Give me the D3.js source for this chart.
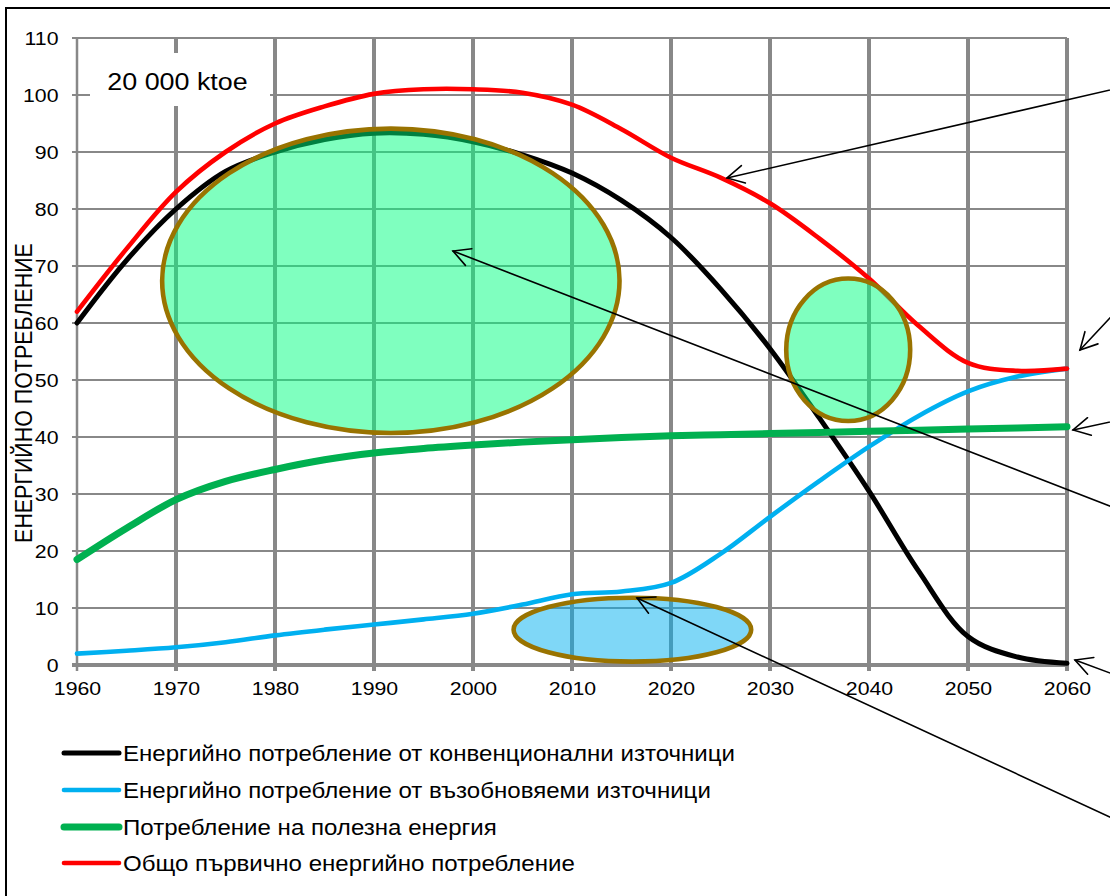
<!DOCTYPE html>
<html>
<head>
<meta charset="utf-8">
<script src="https://cdn.jsdelivr.net/npm/d3@7"></script>
<style>
  html, body { margin: 0; padding: 0; background: #fff; }
  svg { display: block; font-family: "Liberation Sans", Arial, sans-serif; }
</style>
</head>
<body>
<svg id="chart" width="1110" height="896"></svg>
<script>
// ---- data ----
const years = [1960, 1965, 1970, 1975, 1980, 1985, 1990, 1995, 2000, 2005, 2010,
               2015, 2020, 2025, 2030, 2035, 2040, 2045, 2050, 2055, 2060];
const conventional = [60, 71, 80, 86.6, 90, 92.2, 93.3, 93.1, 91.8, 89.5, 86.3,
                      81.5, 75, 66, 55.5, 43.3, 30.5, 16.5, 5, 1.4, 0.3];
const renewable = [2, 2.5, 3.1, 4, 5.2, 6.2, 7.1, 8, 9, 10.6, 12.4,
                   12.9, 14.4, 19.5, 26, 32.3, 38.3, 43.7, 48, 50.6, 52];
const useful = [18.5, 24, 29, 32.2, 34.3, 36, 37.2, 38, 38.6, 39.1, 39.5,
                39.9, 40.2, 40.4, 40.6, 40.8, 41, 41.2, 41.4, 41.6, 41.8];
const total = [62, 73, 83, 90, 95, 98, 100.2, 101, 101, 100.4, 98.3,
               94, 89, 85.5, 81, 74.8, 67.8, 59.5, 53, 51.6, 52];

const seriesNames = [
  "Енергийно потребление от конвенционални източници",
  "Енергийно потребление от възобновяеми източници",
  "Потребление на полезна енергия",
  "Общо първично енергийно потребление"
];
const xTicks = [1960, 1970, 1980, 1990, 2000, 2010, 2020, 2030, 2040, 2050, 2060];
const yTicks = [0, 10, 20, 30, 40, 50, 60, 70, 80, 90, 100, 110];
const yTitle = "ЕНЕРГИЙНО ПОТРЕБЛЕНИЕ";
const unitNote = "20 000 ktoe";

// highlighted regions (centre and radii in year / value units)
const highlights = [
  { cx: 1991.7, cy: 67.4, rx: 23.1, ry: 26.7, fill: "#00ff80" },
  { cx: 2037.9, cy: 55.3, rx: 6.26, ry: 12.5, fill: "#00ff80" },
  { cx: 2016.1, cy: 6.2,  rx: 12.0, ry: 5.6,  fill: "#00b0f0" }
];
// callout arrows: from a point right of the plot to a point of interest
const callouts = [
  { from: [2064.34, 100.88], to: [2025.66, 85.44] },
  { from: [2064.34, 60.88],  to: [2061.31, 55.26] },
  { from: [2064.34, 42.63],  to: [2060.61, 41.23] },
  { from: [2064.34, 27.89],  to: [1997.98, 72.63] },
  { from: [2064.34, -1.40],  to: [2060.81, 0.88] },
  { from: [2064.34, -26.67], to: [2016.57, 11.75] }
];

// ---- layout ----
const W = 1110, H = 896;
const plot = { left: 77, right: 1067, top: 38, bottom: 665 };
const STRETCH = 1.12;          // text is set slightly wide
const GRID = "#888888";

const svg = d3.select("#chart");
const x = d3.scaleLinear().domain([1960, 2060]).range([plot.left, plot.right]);
const y = d3.scaleLinear().domain([0, 110]).range([plot.bottom, plot.top]);

const series = [
  { name: seriesNames[0], values: conventional, color: "#000000", width: 5 },
  { name: seriesNames[1], values: renewable,    color: "#00b0f0", width: 4.6 },
  { name: seriesNames[2], values: useful,       color: "#00b050", width: 7 },
  { name: seriesNames[3], values: total,        color: "#ff0000", width: 4.6 }
];

// outer frame
svg.append("rect")
  .attr("x", 6).attr("y", 8).attr("width", W + 50).attr("height", H + 50)
  .attr("fill", "#fff").attr("stroke", "#000").attr("stroke-width", 2);

// horizontal grid
svg.append("g").selectAll("line")
  .data(yTicks.filter(d => d > 0))
  .join("line")
  .attr("x1", plot.left - 5).attr("x2", plot.right)
  .attr("y1", d => y(d)).attr("y2", d => y(d))
  .attr("stroke", GRID).attr("stroke-width", 2);

// vertical grid (first one is the value axis)
svg.append("g").selectAll("line")
  .data(xTicks)
  .join("line")
  .attr("x1", d => x(d)).attr("x2", d => x(d))
  .attr("y1", plot.top).attr("y2", plot.bottom + 6)
  .attr("stroke", GRID)
  .attr("stroke-width", d => d === xTicks[0] ? 2.5 : 4);

// category axis line
svg.append("line")
  .attr("x1", plot.left - 5).attr("x2", plot.right + 2)
  .attr("y1", y(0)).attr("y2", y(0))
  .attr("stroke", GRID).attr("stroke-width", 4);

// axis labels
const xAxis = svg.append("g")
  .attr("transform", `translate(0,${plot.bottom})`)
  .call(d3.axisBottom(x).tickValues(xTicks).tickFormat(d3.format("d")).tickSize(0).tickPadding(17));
const yAxis = svg.append("g")
  .attr("transform", `translate(${plot.left},0)`)
  .call(d3.axisLeft(y).tickValues(yTicks).tickSize(0).tickPadding(16.5));
[xAxis, yAxis].forEach(g => {
  g.select(".domain").remove();
  g.selectAll("text")
    .attr("fill", "#000")
    .style("font-size", "19px")
    .style("font-family", '"Liberation Sans", Arial, sans-serif')
    .attr("transform", `scale(${STRETCH},1)`);
});

// unit note box
svg.append("rect")
  .attr("x", 90).attr("y", 53).attr("width", 180).attr("height", 53)
  .attr("fill", "#fff");
svg.append("text")
  .attr("transform", `translate(177.5,90) scale(${STRETCH},1)`)
  .attr("text-anchor", "middle")
  .style("font-size", "24px")
  .text(unitNote);

// value axis title
svg.append("text")
  .attr("transform", `translate(32,393) scale(${STRETCH},1) rotate(-90)`)
  .attr("text-anchor", "middle")
  .style("font-size", "21.4px")
  .text(yTitle);

// series lines
const line = d3.line()
  .x((d, i) => x(years[i]))
  .y(d => y(d))
  .curve(d3.curveCatmullRom.alpha(0.5));
svg.append("g").selectAll("path")
  .data(series)
  .join("path")
  .attr("d", s => line(s.values))
  .attr("fill", "none")
  .attr("stroke", s => s.color)
  .attr("stroke-width", s => s.width)
  .attr("stroke-linecap", "round")
  .attr("stroke-linejoin", "round");

// highlighted regions
svg.append("g").selectAll("ellipse")
  .data(highlights)
  .join("ellipse")
  .attr("cx", d => x(d.cx)).attr("cy", d => y(d.cy))
  .attr("rx", d => x(d.cx + d.rx) - x(d.cx))
  .attr("ry", d => y(d.cy - d.ry) - y(d.cy))
  .attr("fill", d => d.fill).attr("fill-opacity", 0.5)
  .attr("stroke", "#997300").attr("stroke-width", 4.6);

// callout arrows
const arrows = svg.append("g").attr("stroke", "#000").attr("stroke-width", 1.6)
  .attr("fill", "none").attr("stroke-linecap", "round");
callouts.forEach(c => {
  const x0 = x(c.from[0]), y0 = y(c.from[1]);
  const x1 = x(c.to[0]), y1 = y(c.to[1]);
  const dx = x0 - x1, dy = y0 - y1, len = Math.hypot(dx, dy);
  const ux = dx / len, uy = dy / len;
  // start a little outside the visible frame
  arrows.append("line")
    .attr("x1", x0 + ux * 12).attr("y1", y0 + uy * 12)
    .attr("x2", x1).attr("y2", y1);
  const a = 28 * Math.PI / 180, L = 19;
  const arm = s => [x1 + L * (ux * Math.cos(s * a) - uy * Math.sin(s * a)),
                    y1 + L * (ux * Math.sin(s * a) + uy * Math.cos(s * a))];
  const p1 = arm(1), p2 = arm(-1);
  arrows.append("path")
    .attr("d", `M${p1[0]},${p1[1]}L${x1},${y1}L${p2[0]},${p2[1]}`)
    .attr("stroke-linejoin", "miter");
});

// legend
const legend = svg.append("g");
const rowY = [753, 790, 827, 863];
series.forEach((s, i) => {
  legend.append("line")
    .attr("x1", 64).attr("x2", 119)
    .attr("y1", rowY[i]).attr("y2", rowY[i])
    .attr("stroke", s.color).attr("stroke-width", s.width)
    .attr("stroke-linecap", "round");
  legend.append("text")
    .attr("transform", `translate(123,${rowY[i] + 7.5}) scale(${STRETCH},1)`)
    .style("font-size", "21.5px")
    .text(s.name);
});
</script>
</body>
</html>
